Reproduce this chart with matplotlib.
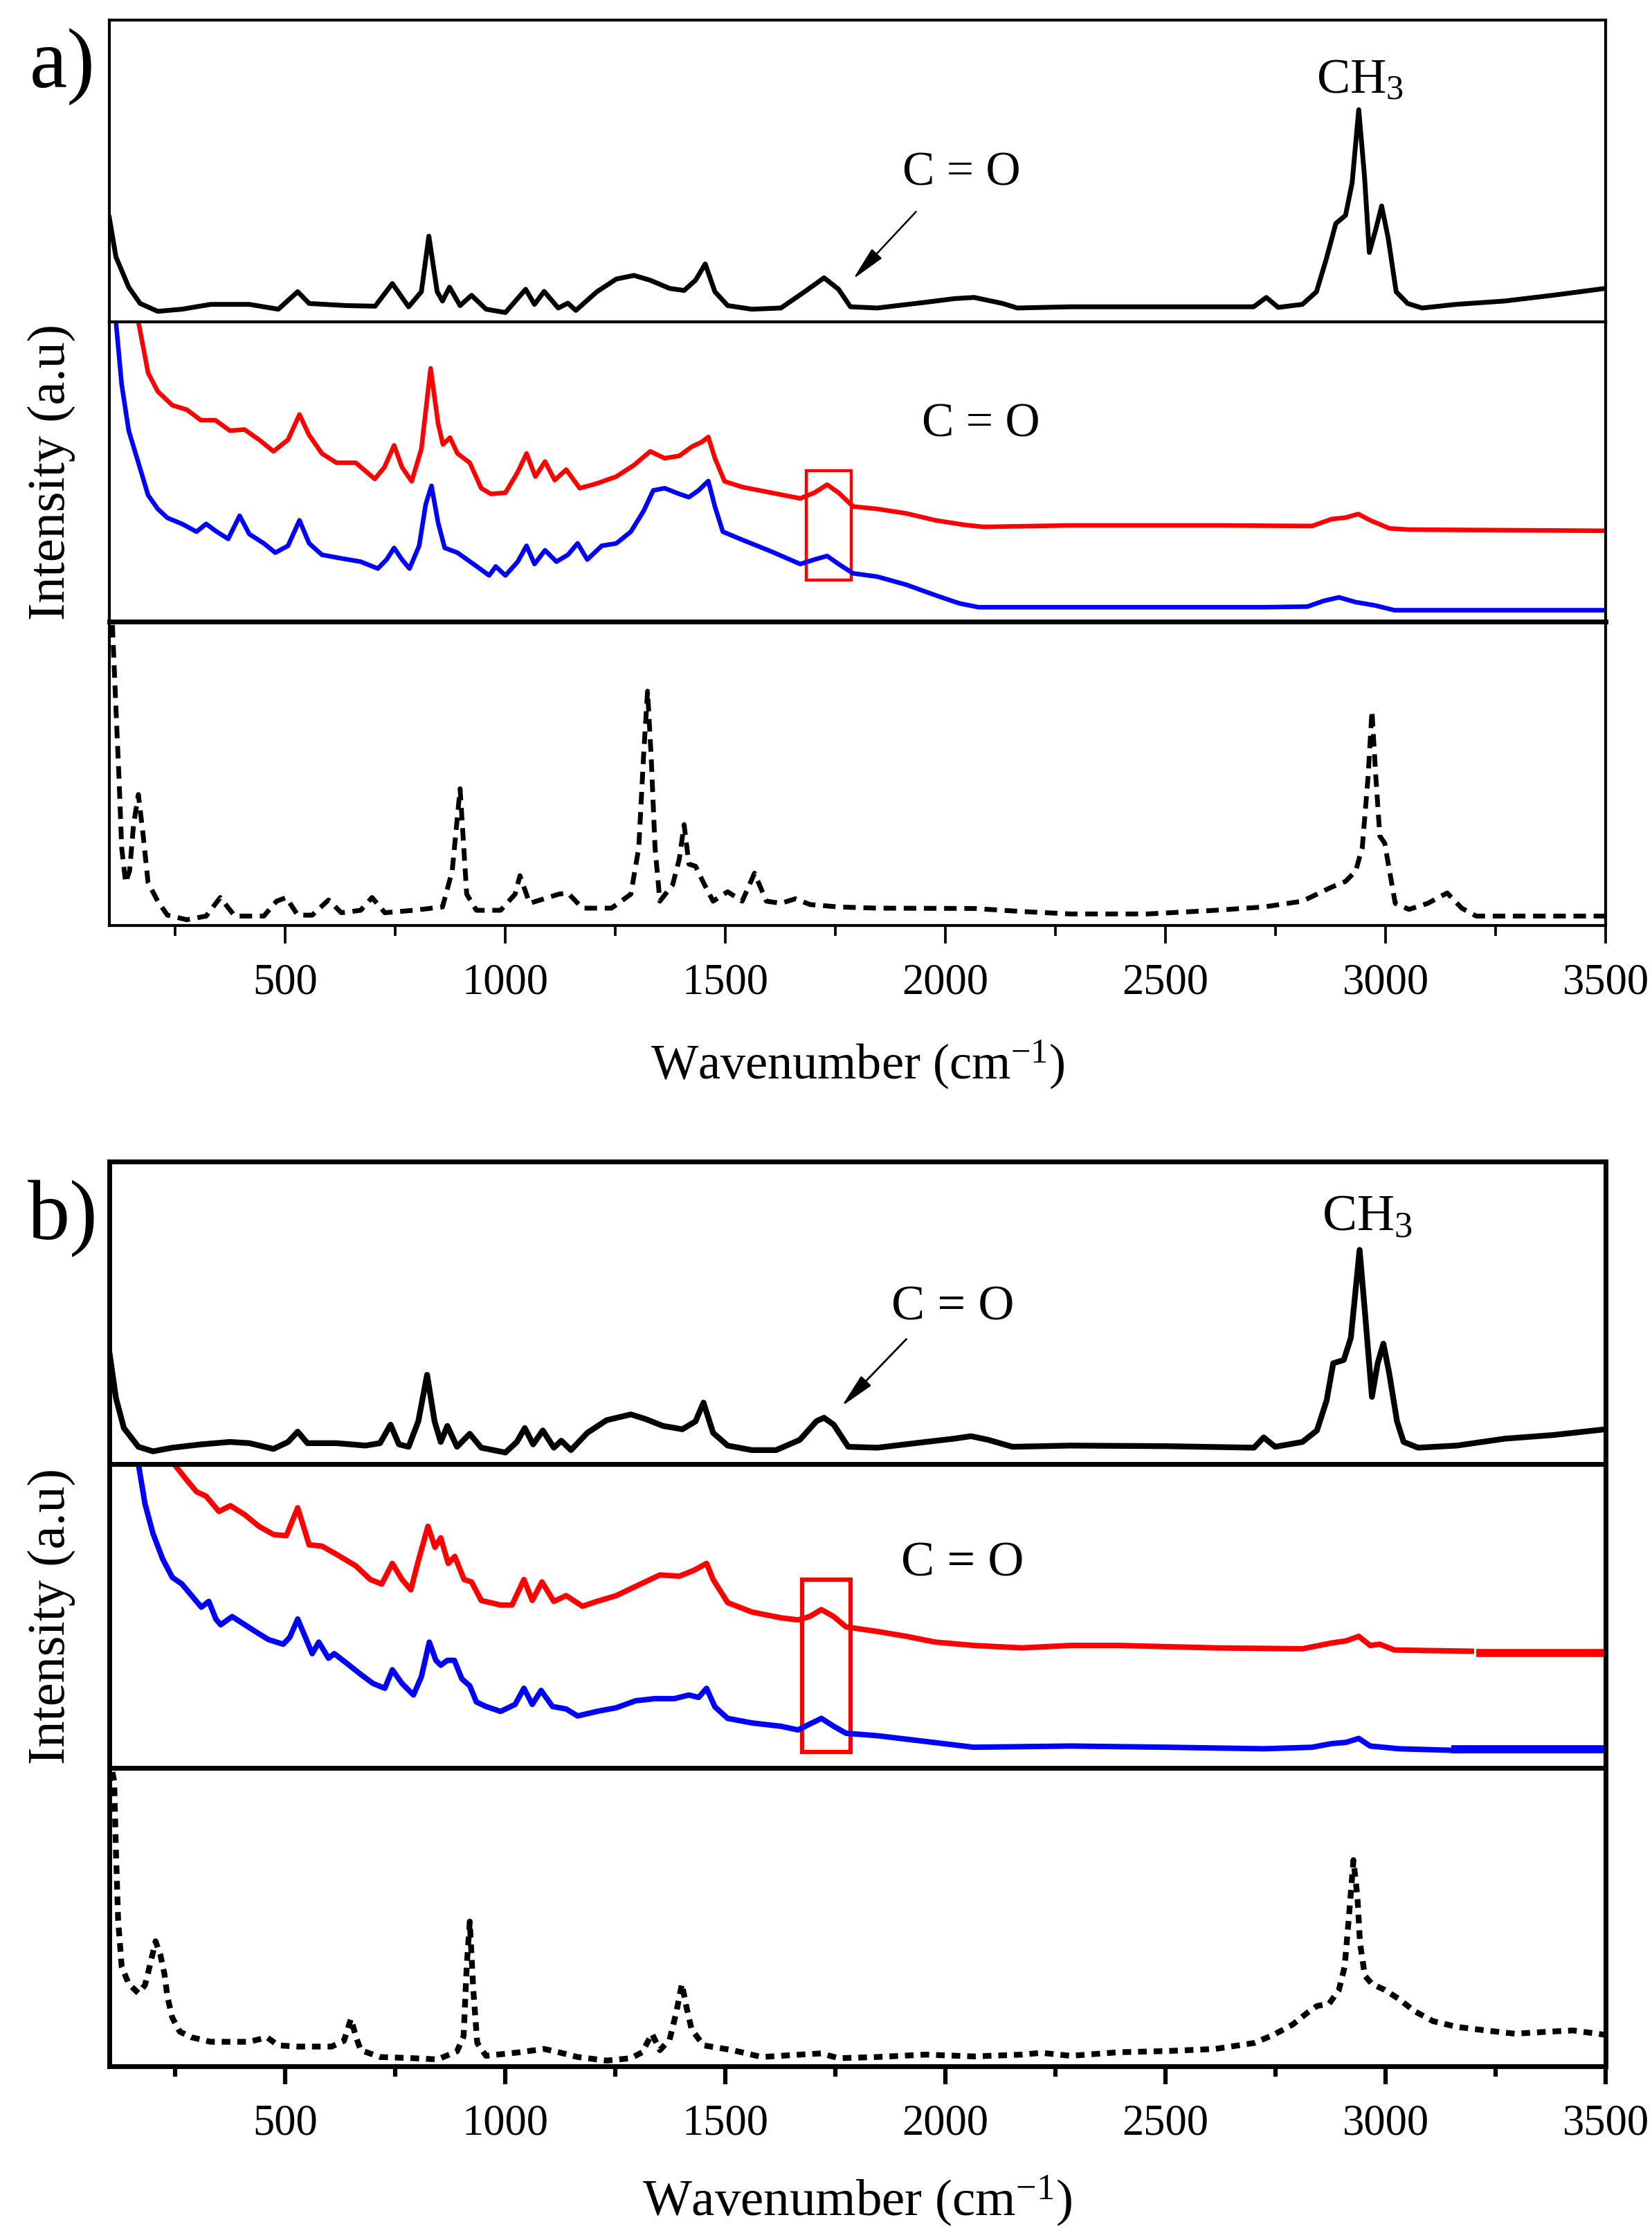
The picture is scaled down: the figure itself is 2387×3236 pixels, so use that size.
import matplotlib
matplotlib.use("Agg")
import matplotlib.pyplot as plt
from matplotlib.patches import Rectangle

plt.rcParams["font.family"] = ["Liberation Serif", "DejaVu Serif"]
plt.rcParams["mathtext.fontset"] = "custom"
plt.rcParams["mathtext.rm"] = "Liberation Serif"
plt.rcParams["mathtext.it"] = "Liberation Serif:italic"

# ---- panel a) ----------------------------------------------------------
# top trace (experimental, black)
a_top_x = [100, 115, 144, 170, 210, 265, 330, 418, 484, 528, 554, 638, 704, 743, 780, 809, 826, 845,
           857, 873, 897, 923, 956, 1000, 1046, 1066, 1088, 1120, 1142, 1160, 1208, 1252, 1292, 1329,
           1373, 1406, 1432, 1454, 1476, 1505, 1560, 1626, 1680, 1724, 1757, 1784, 1845, 1955, 2020,
           2065, 2130, 2163, 2284, 2503, 2700, 2729, 2756, 2811, 2843, 2865, 2887, 2909, 2924, 2939,
           2952, 2963, 2978, 2991, 3006, 3024, 3050, 3083, 3160, 3270, 3379, 3500]
a_top_y = [0.345, 0.215, 0.115, 0.061, 0.035, 0.042, 0.058, 0.058, 0.042, 0.10, 0.061, 0.054, 0.052,
           0.127, 0.05, 0.10, 0.284, 0.10, 0.069, 0.115, 0.054, 0.088, 0.042, 0.031, 0.108, 0.058,
           0.101, 0.046, 0.062, 0.038, 0.10, 0.142, 0.154, 0.138, 0.111, 0.104, 0.138, 0.192, 0.10,
           0.054, 0.042, 0.046, 0.10, 0.146, 0.108, 0.05, 0.046, 0.065, 0.077, 0.081, 0.061, 0.046,
           0.05, 0.05, 0.05, 0.081, 0.048, 0.058, 0.10, 0.207, 0.326, 0.353, 0.461, 0.703, 0.484,
           0.23, 0.308, 0.384, 0.277, 0.10, 0.061, 0.046, 0.058, 0.069, 0.088, 0.111]

# middle traces
a_red_x = [166, 188, 210, 243, 276, 308, 341, 374, 407, 440, 473, 506, 532, 554, 583, 616, 660, 703,
           725, 747, 765, 787, 809, 830, 847, 858, 874, 891, 919, 945, 967, 1000, 1028, 1048, 1068,
           1090, 1112, 1138, 1169, 1208, 1252, 1292, 1329, 1362, 1395, 1424, 1446, 1461, 1476, 1498,
           1538, 1604, 1670, 1702, 1731, 1757, 1790, 1845, 1911, 1977, 2042, 2086, 2284, 2613, 2833,
           2877, 2909, 2938, 2965, 3009, 3053, 3500]
a_red_y = [1.0, 0.83, 0.768, 0.722, 0.707, 0.672, 0.672, 0.637, 0.641, 0.607, 0.568, 0.607, 0.691,
           0.622, 0.561, 0.53, 0.53, 0.476, 0.515, 0.588, 0.515, 0.468, 0.576, 0.845, 0.661, 0.591,
           0.614, 0.561, 0.53, 0.445, 0.426, 0.43, 0.499, 0.561, 0.484, 0.534, 0.472, 0.507, 0.445,
           0.461, 0.484, 0.522, 0.568, 0.545, 0.553, 0.584, 0.599, 0.616, 0.545, 0.468, 0.449, 0.43,
           0.411, 0.43, 0.457, 0.43, 0.384, 0.376, 0.361, 0.338, 0.323, 0.316, 0.321, 0.321, 0.319,
           0.342, 0.347, 0.359, 0.338, 0.311, 0.307, 0.303]
a_blue_x = [115, 128, 144, 166, 188, 210, 232, 265, 298, 320, 341, 370, 396, 418, 451, 477, 506, 532,
            554, 583, 627, 671, 710, 730, 747, 765, 782, 804, 819, 832, 847, 862, 891, 913, 935, 963,
            978, 1000, 1028, 1048, 1066, 1090, 1116, 1142, 1164, 1186, 1219, 1252, 1285, 1314, 1336,
            1362, 1395, 1417, 1439, 1461, 1476, 1494, 1538, 1604, 1670, 1702, 1731, 1757, 1790, 1845,
            1911, 1977, 2031, 2075, 2284, 2723, 2822, 2859, 2894, 2932, 2976, 3020, 3500]
a_blue_y = [1.0, 0.791, 0.637, 0.53, 0.422, 0.376, 0.346, 0.326, 0.30, 0.326, 0.303, 0.276, 0.353,
            0.292, 0.261, 0.23, 0.253, 0.338, 0.261, 0.223, 0.211, 0.20, 0.177, 0.207, 0.246, 0.207,
            0.177, 0.253, 0.392, 0.453, 0.33, 0.246, 0.23, 0.207, 0.184, 0.154, 0.184, 0.154, 0.20,
            0.253, 0.192, 0.238, 0.20, 0.223, 0.261, 0.207, 0.253, 0.261, 0.30, 0.369, 0.438, 0.445,
            0.426, 0.415, 0.438, 0.469, 0.384, 0.30, 0.273, 0.234, 0.192, 0.207, 0.219, 0.192, 0.161,
            0.15, 0.123, 0.088, 0.061, 0.048, 0.048, 0.048, 0.05, 0.069, 0.081, 0.065, 0.054, 0.038,
            0.038]

# bottom trace (calculated, dashed)
a_calc_x = [107, 115, 122, 128, 137, 146, 155, 166, 177, 188, 210, 232, 276, 320, 352, 385, 451, 480,
            502, 528, 561, 598, 627, 671, 697, 726, 791, 857, 879, 897, 912, 934, 989, 1022, 1033,
            1055, 1088, 1121, 1142, 1175, 1241, 1285, 1303, 1314, 1323, 1331, 1340, 1351, 1380, 1395,
            1406, 1417, 1432, 1450, 1472, 1505, 1538, 1566, 1593, 1626, 1659, 1692, 1757, 1845, 2065,
            2174, 2284, 2460, 2613, 2723, 2811, 2877, 2909, 2932, 2947, 2960, 2969, 2978, 2987, 2998,
            3009, 3022, 3053, 3096, 3140, 3173, 3206, 3500]
a_calc_y = [0.989, 0.714, 0.485, 0.256, 0.141, 0.18, 0.332, 0.431, 0.294, 0.141, 0.08, 0.034, 0.019,
            0.031, 0.092, 0.031, 0.031, 0.08, 0.092, 0.034, 0.034, 0.084, 0.042, 0.05, 0.092, 0.042,
            0.05, 0.061, 0.179, 0.45, 0.103, 0.05, 0.05, 0.103, 0.164, 0.073, 0.088, 0.103, 0.107,
            0.057, 0.057, 0.103, 0.256, 0.561, 0.771, 0.561, 0.256, 0.08, 0.134, 0.218, 0.332, 0.202,
            0.195, 0.141, 0.08, 0.111, 0.08, 0.172, 0.08, 0.073, 0.088, 0.069, 0.061, 0.057, 0.056,
            0.046, 0.038, 0.038, 0.05, 0.061, 0.08, 0.126, 0.145, 0.179, 0.256, 0.485, 0.706, 0.485,
            0.294, 0.271, 0.179, 0.073, 0.053, 0.073, 0.107, 0.057, 0.031, 0.031]

# ---- panel b) ----------------------------------------------------------
b_top_x = [100, 115, 133, 166, 199, 243, 309, 374, 418, 473, 506, 528, 550, 616, 682, 715, 739, 758,
           780, 802, 822, 839, 853, 868, 890, 919, 945, 1000, 1026, 1044, 1063, 1085, 1110, 1127,
           1149, 1186, 1230, 1285, 1318, 1358, 1402, 1432, 1450, 1472, 1505, 1560, 1615, 1669, 1707,
           1724, 1746, 1779, 1845, 1955, 2020, 2058, 2097, 2152, 2284, 2503, 2701, 2723, 2749, 2811,
           2844, 2866, 2881, 2905, 2921, 2941, 2954, 2969, 2982, 2995, 3008, 3026, 3041, 3074, 3162,
           3272, 3382, 3500]
b_top_y = [0.371, 0.218, 0.119, 0.057, 0.042, 0.054, 0.065, 0.073, 0.069, 0.05, 0.073, 0.107, 0.069,
           0.069, 0.061, 0.069, 0.13, 0.065, 0.057, 0.141, 0.295, 0.141, 0.073, 0.126, 0.057, 0.10,
           0.054, 0.038, 0.073, 0.119, 0.065, 0.111, 0.054, 0.077, 0.046, 0.103, 0.145, 0.164, 0.149,
           0.126, 0.115, 0.141, 0.203, 0.103, 0.061, 0.046, 0.046, 0.08, 0.142, 0.153, 0.13, 0.057,
           0.054, 0.073, 0.084, 0.092, 0.08, 0.057, 0.061, 0.059, 0.054, 0.088, 0.057, 0.073, 0.111,
           0.21, 0.333, 0.344, 0.417, 0.708, 0.486, 0.222, 0.333, 0.398, 0.302, 0.141, 0.073, 0.054,
           0.061, 0.084, 0.096, 0.115]

b_red_x = [247, 276, 298, 320, 349, 375, 408, 440, 473, 502, 528, 554, 583, 616, 660, 693, 719, 743,
           765, 785, 802, 824, 840, 853, 870, 885, 906, 923, 945, 989, 1015, 1042, 1061, 1083, 1110,
           1138, 1175, 1208, 1252, 1307, 1351, 1395, 1428, 1457, 1472, 1505, 1560, 1626, 1665, 1691,
           1718, 1746, 1774, 1845, 1911, 1977, 2064, 2174, 2284, 2394, 2613, 2811, 2877, 2910, 2939,
           2965, 2987, 3020, 3195]
b_red_y = [1.0, 0.947, 0.909, 0.894, 0.844, 0.863, 0.833, 0.795, 0.768, 0.764, 0.856, 0.734, 0.73,
           0.703, 0.665, 0.62, 0.605, 0.673, 0.62, 0.586, 0.681, 0.795, 0.726, 0.757, 0.673, 0.696,
           0.62, 0.612, 0.551, 0.536, 0.536, 0.62, 0.551, 0.612, 0.548, 0.567, 0.532, 0.548, 0.567,
           0.605, 0.635, 0.631, 0.65, 0.673, 0.62, 0.544, 0.513, 0.494, 0.487, 0.498, 0.521, 0.498,
           0.464, 0.449, 0.433, 0.414, 0.403, 0.395, 0.403, 0.403, 0.395, 0.392, 0.411, 0.418, 0.433,
           0.403, 0.407, 0.388, 0.384]
b_red_tail_x = [3206, 3500]
b_red_tail_y = [0.379, 0.379]

b_blue_x = [166, 181, 199, 221, 243, 265, 287, 309, 326, 342, 353, 379, 408, 436, 462, 495, 510, 528,
            550, 561, 576, 598, 611, 638, 671, 699, 726, 743, 765, 791, 809, 827, 842, 853, 868, 884,
            901, 919, 934, 956, 989, 1022, 1042, 1061, 1081, 1107, 1138, 1164, 1208, 1252, 1296, 1340,
            1384, 1417, 1439, 1457, 1476, 1505, 1560, 1626, 1665, 1691, 1718, 1746, 1774, 1845, 1955,
            2064, 2284, 2504, 2723, 2833, 2877, 2910, 2939, 2965, 3031, 3173]
b_blue_y = [1.0, 0.869, 0.772, 0.688, 0.627, 0.605, 0.567, 0.529, 0.548, 0.49, 0.471, 0.498, 0.471,
            0.445, 0.422, 0.407, 0.43, 0.49, 0.414, 0.376, 0.414, 0.361, 0.376, 0.346, 0.308, 0.278,
            0.262, 0.323, 0.278, 0.24, 0.30, 0.414, 0.354, 0.338, 0.354, 0.354, 0.293, 0.27, 0.217,
            0.202, 0.186, 0.209, 0.262, 0.209, 0.255, 0.202, 0.194, 0.171, 0.186, 0.198, 0.221, 0.228,
            0.228, 0.24, 0.232, 0.262, 0.201, 0.163, 0.148, 0.137, 0.125, 0.144, 0.163, 0.137, 0.114,
            0.106, 0.087, 0.068, 0.072, 0.068, 0.063, 0.068, 0.08, 0.084, 0.097, 0.072, 0.063, 0.057]
b_blue_tail_x = [3150, 3500]
b_blue_tail_y = [0.062, 0.062]

b_calc_x = [107, 111, 115, 120, 128, 144, 166, 181, 194, 205, 216, 225, 232, 243, 260, 287, 330, 418,
            458, 484, 528, 605, 633, 649, 660, 671, 715, 791, 846, 890, 905, 912, 919, 927, 936, 956,
            1033, 1088, 1121, 1164, 1230, 1285, 1311, 1333, 1351, 1373, 1388, 1401, 1412, 1423, 1450,
            1516, 1582, 1670, 1718, 1757, 1845, 1955, 2064, 2174, 2218, 2284, 2394, 2503, 2613, 2701,
            2745, 2789, 2822, 2844, 2872, 2894, 2907, 2916, 2927, 2936, 2942, 2953, 2969, 2998, 3031,
            3064, 3108, 3162, 3228, 3294, 3371, 3426, 3481, 3500]
b_calc_y = [0.986, 0.955, 0.722, 0.489, 0.334, 0.276, 0.245, 0.272, 0.349, 0.419, 0.373, 0.311, 0.233,
            0.163, 0.116, 0.097, 0.082, 0.082, 0.097, 0.07, 0.066, 0.066, 0.085, 0.159, 0.101, 0.054,
            0.031, 0.027, 0.023, 0.05, 0.101, 0.334, 0.485, 0.256, 0.078, 0.035, 0.047, 0.058, 0.047,
            0.031, 0.019, 0.027, 0.047, 0.109, 0.054, 0.089, 0.179, 0.276, 0.194, 0.124, 0.07, 0.054,
            0.031, 0.039, 0.043, 0.027, 0.031, 0.039, 0.033, 0.039, 0.045, 0.035, 0.047, 0.051, 0.058,
            0.078, 0.105, 0.14, 0.179, 0.202, 0.21, 0.256, 0.334, 0.489, 0.691, 0.567, 0.412, 0.303,
            0.276, 0.256, 0.225, 0.186, 0.151, 0.132, 0.12, 0.109, 0.116, 0.12, 0.109, 0.105]

major_ticks = [500, 1000, 1500, 2000, 2500, 3000, 3500]
minor_ticks = [250, 750, 1250, 1750, 2250, 2750, 3250]

W, H = 2387, 3236
fig = plt.figure(figsize=(W / 100, H / 100), dpi=100)

LEFT = 158 / W
WIDTH = (2320 - 158) / W


def add_ax(top_px, bot_px, spine_lw):
    ax = fig.add_axes([LEFT, 1 - bot_px / H, WIDTH, (bot_px - top_px) / H])
    ax.set_xlim(100, 3500)
    ax.set_ylim(0, 1)
    ax.set_yticks([])
    ax.set_xticks([])
    for s in ax.spines.values():
        s.set_linewidth(spine_lw)
    return ax


def finish_bottom(ax, tick_w):
    ax.set_xticks(major_ticks)
    ax.set_xticks(minor_ticks, minor=True)
    ax.tick_params(axis="x", which="major", direction="out", length=19, width=tick_w,
                   labelsize=45, pad=20)
    ax.tick_params(axis="x", which="minor", direction="out", length=11, width=tick_w)


def panel(edges, spine_lw, lw, dashes, data, label, label_y):
    t0, t1, t2, t3 = edges
    ax1 = add_ax(t0, t1, spine_lw)
    ax2 = add_ax(t1, t2, spine_lw)
    ax3 = add_ax(t2, t3, spine_lw)
    top, red, blue, calc, tails = data

    ax1.plot(top[0], top[1], color="black", lw=lw)
    ax2.plot(red[0], red[1], color="#ff0000", lw=lw * 0.95)
    ax2.plot(blue[0], blue[1], color="#0000ff", lw=lw * 0.95)
    for tx, ty, c in tails:
        ax2.plot(tx, ty, color=c, lw=lw * 1.4, solid_capstyle="butt")
    ax3.plot(calc[0], calc[1], color="black", lw=lw, linestyle=(0, dashes))
    finish_bottom(ax3, spine_lw * 0.9)
    fig.text(0.031, 1 - (t1 + t2) / 2 / H, "Intensity (a.u)", rotation=90,
             ha="center", va="center", fontsize=55)
    fig.text(0.038, label_y, label, ha="center", va="center", fontsize=88)
    return ax1, ax2, ax3


# panel a
a1, a2, a3 = panel((29, 465, 898, 1337), 3.0, 5.0, (2.6, 1.6),
                   ((a_top_x, a_top_y), (a_red_x, a_red_y), (a_blue_x, a_blue_y),
                    (a_calc_x, a_calc_y), []),
                   "a)", 1 - 96 / H)
a2.spines["bottom"].set_linewidth(5)
a3.spines["top"].set_linewidth(5)
a1.text(2942, 0.757, r"CH$_3$", ha="center", va="baseline", fontsize=52)
a1.text(2036, 0.453, "C = O", ha="center", va="baseline", fontsize=50)
a1.annotate("", xy=(1790, 0.142), xytext=(1933, 0.365),
            arrowprops=dict(arrowstyle="-|>,head_length=1.1,head_width=0.22",
                            lw=1.8, color="black", mutation_scale=28, shrinkA=0, shrinkB=0))
a2.text(2080, 0.618, "C = O", ha="center", va="baseline", fontsize=50)
a2.add_patch(Rectangle((1683, 0.138), 1786 - 1683, 0.503 - 0.138, fill=False,
                       edgecolor="#ff0000", lw=3.2))
fig.text(1239 / W, 1 - 1538 / H, r"Wavenumber (cm$^{-1}$)", ha="center", va="center",
         fontsize=52)

# panel b
b1, b2, b3 = panel((1678, 2115, 2554, 2985), 5.0, 6.0, (1.5, 1.2),
                   ((b_top_x, b_top_y), (b_red_x, b_red_y), (b_blue_x, b_blue_y),
                    (b_calc_x, b_calc_y),
                    [(b_red_tail_x, b_red_tail_y, "#ff0000"),
                     (b_blue_tail_x, b_blue_tail_y, "#0000ff")]),
                   "b)", 1 - 1760 / H)
b1.text(2958, 0.773, r"CH$_3$", ha="center", va="baseline", fontsize=54)
b1.text(2016, 0.478, "C = O", ha="center", va="baseline", fontsize=52)
b1.annotate("", xy=(1764, 0.191), xytext=(1911, 0.413),
            arrowprops=dict(arrowstyle="-|>,head_length=1.1,head_width=0.22",
                            lw=2.0, color="black", mutation_scale=28, shrinkA=0, shrinkB=0))
b2.text(2038, 0.631, "C = O", ha="center", va="baseline", fontsize=52)
b2.add_patch(Rectangle((1674, 0.053), 1784 - 1674, 0.62 - 0.053, fill=False,
                       edgecolor="#ff0000", lw=4.5))
fig.text(1239 / W, 1 - 3180 / H, r"Wavenumber (cm$^{-1}$)", ha="center", va="center",
         fontsize=54)

fig.savefig("out.png", dpi=100)
